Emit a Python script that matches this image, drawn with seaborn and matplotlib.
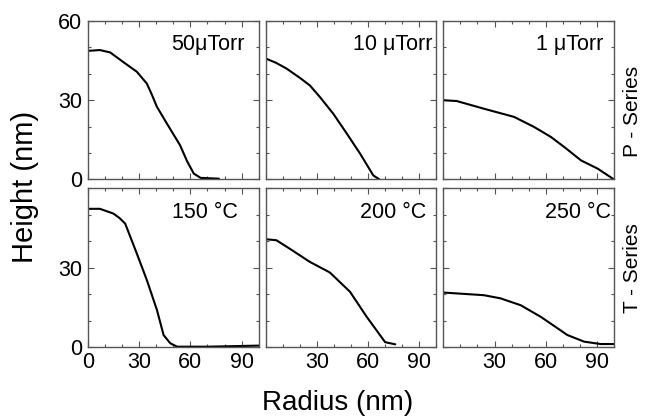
import matplotlib
matplotlib.use('Agg')
import matplotlib.pyplot as plt
import seaborn as sns
import pandas as pd
from matplotlib.ticker import MultipleLocator

# radius (nm) / height (nm)
r_50ut = [0, 7, 13, 20.6, 28.6, 34.5, 37.5, 40.4, 46.3, 54, 58, 62, 66, 76.7]
h_50ut = [48.7, 49, 48.1, 44.5, 40.8, 36.3, 32, 27.5, 21.1, 12.9, 7, 2.2, 0.6, 0.3]

r_10ut = [0, 6, 12.2, 20, 25.9, 31.8, 39.6, 47.5, 55.3, 63.1, 66.7]
h_10ut = [45.8, 44.2, 42, 38.5, 35.6, 31.2, 24.9, 17.4, 9.8, 1.5, 0]

r_1ut = [0, 7.8, 23.7, 41.4, 53.1, 63, 70.8, 80.7, 90.4, 100]
h_1ut = [30, 29.7, 26.8, 23.7, 19.9, 16.1, 12.3, 7.2, 4.1, 0]

r_150c = [0, 7, 14.9, 18.5, 21.8, 28.6, 34.5, 40.4, 44.3, 48.2, 52.2, 70, 100]
h_150c = [52.3, 52.3, 50.5, 48.8, 46.7, 35.4, 25.3, 14, 4.5, 1.4, 0.1, 0.1, 0.5]

r_200c = [0, 6.3, 14.1, 25.9, 37.6, 49.4, 59.2, 70, 75.9]
h_200c = [40.8, 40.4, 37.2, 32.2, 28.2, 20.9, 11.4, 1.8, 1]

r_250c = [0, 23.7, 33.5, 45.3, 57.1, 72.7, 82.5, 92.2, 100]
h_250c = [20.6, 19.6, 18.4, 15.8, 11.4, 4.5, 2, 1.1, 1.1]

labels = ['50\u03bcTorr', '10 \u03bcTorr', '1 \u03bcTorr', '150 \u00b0C', '200 \u00b0C', '250 \u00b0C']
series = [(r_50ut, h_50ut), (r_10ut, h_10ut), (r_1ut, h_1ut),
          (r_150c, h_150c), (r_200c, h_200c), (r_250c, h_250c)]
row_names = ['P - Series', 'T - Series']

label_x = [0.92, 0.98, 0.94, 0.88, 0.94, 0.98]

sns.set_style('ticks')
plt.rcParams['font.family'] = ['Liberation Sans', 'DejaVu Sans']
plt.rcParams['text.color'] = 'black'
plt.rcParams['xtick.labelcolor'] = 'black'
plt.rcParams['ytick.labelcolor'] = 'black'

fig, axes = plt.subplots(2, 3, figsize=(6.45, 4.16), dpi=100)
fig.subplots_adjust(left=0.1364, right=0.952, top=0.9495, bottom=0.166,
                    wspace=0.041, hspace=0.057)

frame = '#555555'
for i, ax in enumerate(axes.flat):
    r, h = series[i]
    df = pd.DataFrame({'r': r, 'h': h})
    sns.lineplot(data=df, x='r', y='h', ax=ax, color='black', linewidth=1.5,
                 sort=False, estimator=None)
    ax.set_xlim(0, 100)
    ax.set_ylim(0, 60)
    ax.xaxis.set_major_locator(MultipleLocator(30))
    ax.xaxis.set_minor_locator(MultipleLocator(10))
    ax.yaxis.set_major_locator(MultipleLocator(30))
    ax.yaxis.set_minor_locator(MultipleLocator(10))
    ax.tick_params(which='both', direction='in', top=True, right=True,
                   color=frame, width=0.8, labelsize=15.5, pad=4)
    ax.tick_params(which='major', length=4)
    ax.tick_params(which='minor', length=2.5)
    for s in ax.spines.values():
        s.set_color(frame)
        s.set_linewidth(1.0)
    ax.set_xlabel('')
    ax.set_ylabel('')
    ax.text(label_x[i], 0.85, labels[i], transform=ax.transAxes,
            ha='right', va='center', fontsize=15.5)
    row, col = divmod(i, 3)
    if row == 0:
        ax.set_xticklabels([])
    else:
        if col == 0:
            ax.set_xticks([0, 30, 60, 90])
        else:
            ax.set_xticks([30, 60, 90])
    if col == 0:
        if row == 0:
            ax.set_yticks([0, 30, 60])
        else:
            ax.set_yticks([0, 30])
    else:
        ax.set_yticklabels([])

for row in range(2):
    ax = axes[row, 2]
    ax.text(1.11, 0.5 - 0.07 * (1 - row), row_names[row], transform=ax.transAxes,
            rotation=90, ha='center', va='center', fontsize=15)

fig.text(0.038, 0.55, 'Height (nm)', rotation=90, ha='center', va='center', fontsize=21)
fig.text(0.523, 0.031, 'Radius (nm)', ha='center', va='center', fontsize=20)

plt.savefig('out.png', dpi=100)
